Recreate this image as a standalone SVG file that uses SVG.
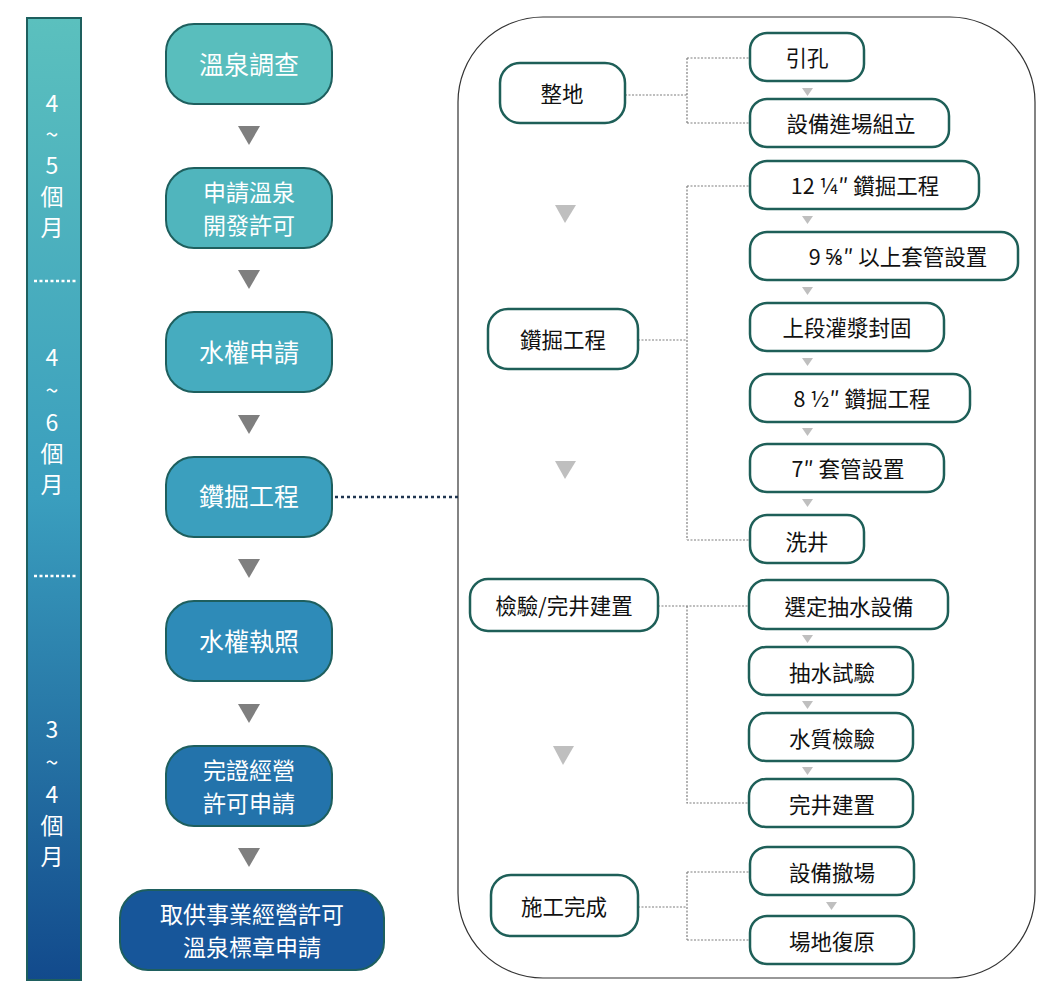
<svg xmlns="http://www.w3.org/2000/svg" width="1058" height="1008" viewBox="0 0 1058 1008">
<defs>
<linearGradient id="barGrad" x1="0" y1="0" x2="0" y2="1">
<stop offset="0" stop-color="#5BC0BE"/>
<stop offset="0.5" stop-color="#3A9EBE"/>
<stop offset="1" stop-color="#124A8C"/>
</linearGradient>
</defs>
<style>
text{font-family:"Noto Sans CJK TC","Noto Sans",sans-serif;text-anchor:middle;dominant-baseline:central}
.mid rect{stroke:#1E5F5E;stroke-width:2}
.mid text{fill:#ffffff;font-size:25px}
.mid text.two{font-size:23px}
.bar text{fill:#ffffff;font-size:23px}
.sub rect{fill:#ffffff;stroke:#1E5F58;stroke-width:2.5}
.sub text{fill:#111111;font-size:21.5px}
.tri{fill:#7F7F7F}
.tri2{fill:#BFBFBF}
.conn{fill:none;stroke:#7F7F7F;stroke-width:1.2;stroke-dasharray:2 1.5}
</style>

<g id="timebar" class="bar">
<rect x="27" y="18" width="54" height="962" fill="url(#barGrad)" stroke="#1E5F5E" stroke-width="2"/>
<line x1="34" y1="281" x2="78" y2="281" stroke="#ffffff" stroke-width="2.5" stroke-dasharray="3 2.5"/>
<line x1="34" y1="576" x2="78" y2="576" stroke="#ffffff" stroke-width="2.5" stroke-dasharray="3 2.5"/>
<text x="52" y="102">4<tspan x="52" y="133">~</tspan><tspan x="52" y="164">5</tspan><tspan x="52" y="195">個</tspan><tspan x="52" y="226">月</tspan></text>
<text x="52" y="356">4<tspan x="52" y="389">~</tspan><tspan x="52" y="421">6</tspan><tspan x="52" y="452">個</tspan><tspan x="52" y="483">月</tspan></text>
<text x="52" y="728">3<tspan x="52" y="761">~</tspan><tspan x="52" y="793">4</tspan><tspan x="52" y="824">個</tspan><tspan x="52" y="855">月</tspan></text>
</g>

<g id="n1" class="mid"><rect x="166" y="24" width="166" height="80" rx="28" fill="#59BEBD"/><text x="249" y="63">溫泉調查</text></g>
<g id="n2" class="mid"><rect x="166" y="168" width="166" height="80" rx="28" fill="#50B5BD"/><text class="two" x="249" y="191">申請溫泉<tspan x="249" y="224">開發許可</tspan></text></g>
<g id="n3" class="mid"><rect x="166" y="312" width="166" height="80" rx="28" fill="#46ACBF"/><text x="249" y="351">水權申請</text></g>
<g id="n4" class="mid"><rect x="166" y="457" width="166" height="80" rx="28" fill="#3B9FBE"/><text x="249" y="495">鑽掘工程</text></g>
<g id="n5" class="mid"><rect x="166" y="601" width="166" height="80" rx="28" fill="#2E8BB8"/><text x="249" y="640">水權執照</text></g>
<g id="n6" class="mid"><rect x="166" y="746" width="166" height="80" rx="28" fill="#2373AB"/><text class="two" x="249" y="769">完證經營<tspan x="249" y="802">許可申請</tspan></text></g>
<g id="n7" class="mid"><rect x="120" y="890" width="264" height="80" rx="28" fill="#17569A"/><text class="two" x="252" y="913">取供事業經營許可<tspan x="252" y="946">溫泉標章申請</tspan></text></g>

<g id="mainArrows">
<polygon class="tri" points="238,126 260,126 249,145"/>
<polygon class="tri" points="238,270 260,270 249,289"/>
<polygon class="tri" points="238,415 260,415 249,434"/>
<polygon class="tri" points="238,559 260,559 249,578"/>
<polygon class="tri" points="238,704 260,704 249,723"/>
<polygon class="tri" points="238,848 260,848 249,867"/>
</g>

<g id="panel">
<rect x="458" y="17" width="577" height="961" rx="85" fill="#ffffff" stroke="#333333" stroke-width="1.2"/>
</g>

<g id="connectors">
<line x1="335" y1="497" x2="458" y2="497" stroke="#1F3550" stroke-width="2.5" stroke-dasharray="3 3"/>
<path class="conn" d="M625,95 H687 M687,58 V123 M687,58 H750 M687,123 H750"/>
<path class="conn" d="M638,340 H687 M687,186 V540 M687,186 H750 M687,540 H750"/>
<path class="conn" d="M658,606 H749 M687,606 V803 H749"/>
<path class="conn" d="M638,907 H687 M687,872 V940 M687,872 H750 M687,940 H750"/>
</g>

<g id="phaseArrows">
<polygon class="tri2" points="555,205 576,205 565,223"/>
<polygon class="tri2" points="555,461 576,461 565,479"/>
<polygon class="tri2" points="553,746 574,746 563,765"/>
</g>

<g id="subArrows">
<polygon class="tri2" points="802,88 813,88 807.5,96"/>
<polygon class="tri2" points="802,216 813,216 807.5,224"/>
<polygon class="tri2" points="802,287 813,287 807.5,295"/>
<polygon class="tri2" points="802,358 813,358 807.5,366"/>
<polygon class="tri2" points="802,428 813,428 807.5,436"/>
<polygon class="tri2" points="802,499 813,499 807.5,507"/>
<polygon class="tri2" points="802,635 813,635 807.5,643"/>
<polygon class="tri2" points="802,701 813,701 807.5,709"/>
<polygon class="tri2" points="802,767 813,767 807.5,775"/>
<polygon class="tri2" points="826,902 837,902 831.5,910"/>
</g>

<g id="p1" class="sub"><rect x="500" y="63" width="125" height="60" rx="20"/><text x="562" y="92">整地</text></g>
<g id="p2" class="sub"><rect x="488" y="309" width="150" height="60" rx="20"/><text x="563" y="338">鑽掘工程</text></g>
<g id="p3" class="sub"><rect x="470" y="579" width="188" height="52" rx="18"/><text x="564" y="604">檢驗/完井建置</text></g>
<g id="p4" class="sub"><rect x="491" y="875" width="147" height="61" rx="20"/><text x="564" y="905">施工完成</text></g>

<g id="s1" class="sub"><rect x="750" y="33" width="114" height="48" rx="17"/><text x="807" y="56">引孔</text></g>
<g id="s2" class="sub"><rect x="750" y="99" width="199" height="48" rx="17"/><text x="851" y="122">設備進場組立</text></g>
<g id="s3" class="sub"><rect x="750" y="161" width="229" height="48" rx="17"/><text x="865" y="184">12 ¼″ 鑽掘工程</text></g>
<g id="s4" class="sub"><rect x="750" y="232" width="268" height="48" rx="17"/><text x="898" y="255">9 ⅝″ 以上套管設置</text></g>
<g id="s5" class="sub"><rect x="750" y="303" width="194" height="48" rx="17"/><text x="847" y="326">上段灌漿封固</text></g>
<g id="s6" class="sub"><rect x="750" y="374" width="220" height="48" rx="17"/><text x="862" y="397">8 ½″ 鑽掘工程</text></g>
<g id="s7" class="sub"><rect x="750" y="444" width="194" height="48" rx="17"/><text x="848" y="467">7″ 套管設置</text></g>
<g id="s8" class="sub"><rect x="750" y="515" width="114" height="48" rx="17"/><text x="807" y="540">洗井</text></g>
<g id="s9" class="sub"><rect x="749" y="580" width="199" height="49" rx="17"/><text x="849" y="605">選定抽水設備</text></g>
<g id="s10" class="sub"><rect x="749" y="647" width="164" height="48" rx="17"/><text x="832" y="671">抽水試驗</text></g>
<g id="s11" class="sub"><rect x="749" y="713" width="164" height="48" rx="17"/><text x="832" y="737">水質檢驗</text></g>
<g id="s12" class="sub"><rect x="749" y="779" width="164" height="48" rx="17"/><text x="832" y="803">完井建置</text></g>
<g id="s13" class="sub"><rect x="750" y="847" width="164" height="48" rx="17"/><text x="832" y="871">設備撤場</text></g>
<g id="s14" class="sub"><rect x="750" y="916" width="164" height="48" rx="17"/><text x="832" y="940">場地復原</text></g>
</svg>
